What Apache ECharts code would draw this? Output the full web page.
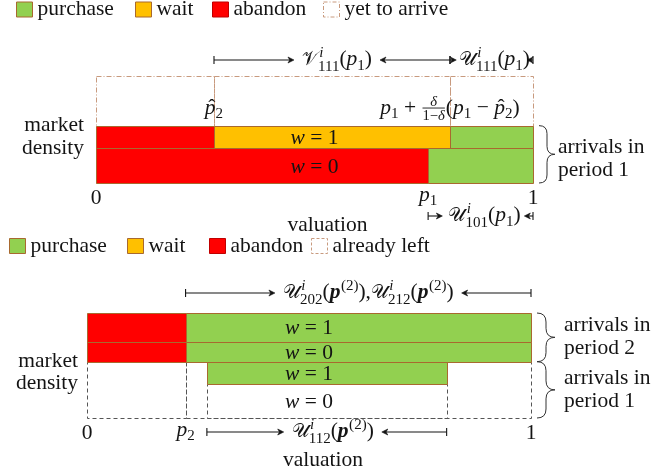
<!DOCTYPE html>
<html>
<head>
<meta charset="utf-8">
<script src="https://cdn.jsdelivr.net/npm/echarts@6/dist/echarts.min.js"></script>
<style>
  html, body { margin: 0; padding: 0; background: #ffffff; }
  #chart { width: 653px; height: 475px; }
</style>
</head>
<body>
<div id="chart"></div>
<script>
// ---- valuation cut-offs on the unit interval ----
const pHat2 = 0.27;       // anticipated period-2 price  \hat p_2
const p1 = 0.76;          // period-1 price
const waitCutoff = 0.81;  // p1 + δ/(1−δ)(p1 − \hat p_2)
const p2 = 0.222;         // period-2 price

// ---- arrival density of each cohort (w = 1 / w = 0) ----
const period1W0 = 0.61;
const period1W1 = 0.39;
const period2W0 = 0.355;
const period2W1 = 0.51;

// ---- legend entries ----
const legendTopNames = ['purchase', 'wait', 'abandon', 'yet to arrive'];
const legendBottomNames = ['purchase', 'wait', 'abandon', 'already left'];

// ---- tick values and their labels ----
const ticksTop = [0, p1, 1];
const tickLabelsTop = ['0', [{ i: 'p' }, { s: '1' }], '1'];
const ticksBottom = [0, p2, 1];
const tickLabelsBottom = ['0', [{ i: 'p' }, { s: '2' }], '1'];

// ---- interval labels ----
const labelV111 = [{ c: '𝒱' }, { us: ['i', '111'] }, '(', { i: 'p' }, { s: '1' }, ')'];
const labelU111 = [{ c: '𝒰' }, { us: ['i', '111'] }, '(', { i: 'p' }, { s: '1' }, ')'];
const labelU101 = [{ c: '𝒰' }, { us: ['i', '101'] }, '(', { i: 'p' }, { s: '1' }, ')'];
const labelU2 = [{ c: '𝒰' }, { us: ['i', '202'] }, '(', { b: 'p' }, { u: '(2)' }, '),',
                 { c: '𝒰' }, { us: ['i', '212'] }, '(', { b: 'p' }, { u: '(2)' }, ')'];
const labelU112 = [{ c: '𝒰' }, { us: ['i', '112'] }, '(', { b: 'p' }, { u: '(2)' }, ')'];
const labelPHat2 = [{ h: 'p' }, { s: '2' }];
const labelCutoff = [{ i: 'p' }, { s: '1' }, ' + ', { f: [[{ i: 'δ' }], ['1−', { i: 'δ' }]] },
                     '(', { i: 'p' }, { s: '1' }, ' − ', { h: 'p' }, { s: '2' }, ')'];
const labelW1 = [{ i: 'w' }, ' = 1'];
const labelW0 = [{ i: 'w' }, ' = 0'];

// ---- derived stacking heights ----
const period1Top = period1W0 + period1W1;
const period2W0Top = period1Top + period2W0;
const yMax = period2W0Top + period2W1;

// rectangles: [x from, x to, y from, y to]
const topAbandon = [[0, pHat2, period1W0, period1Top], [0, p1, 0, period1W0]];
const topWait = [[pHat2, waitCutoff, period1W0, period1Top]];
const topPurchase = [[waitCutoff, 1, period1W0, period1Top], [p1, 1, 0, period1W0]];
const topFuture = [[0, pHat2, period1Top, yMax], [pHat2, waitCutoff, period1Top, yMax], [waitCutoff, 1, period1Top, yMax]];

const bottomAbandon = [[0, p2, period1Top, period2W0Top], [0, p2, period2W0Top, yMax]];
const bottomPurchase = [[p2, 1, period1Top, period2W0Top], [p2, 1, period2W0Top, yMax], [pHat2, waitCutoff, period1W0, period1Top]];
const bottomLeft = [[0, p2, 0, period1Top], [p2, 1, 0, period1Top], [pHat2, waitCutoff, 0, period1W0]];

// ---- styling ----
const FONT = 'Liberation Serif';
const FS = 21.5;
const INK = '#141414';
const GREEN = '#92d050';
const YELLOW = '#ffc000';
const RED = '#ff0000';
const EDGE = '#a8692f';
const PEACH = '#c89a7e';
const GREY = '#555555';

// ---- text measurement for the small math typesetter ----
const mctx = document.createElement('canvas').getContext('2d');
function fontOf(size, it, bd) {
  return [it ? 'italic' : '', bd ? 'bold' : '', size + 'px', FONT].filter(Boolean).join(' ');
}
function widthOf(t, size, it, bd) {
  mctx.font = fontOf(size, it, bd);
  return mctx.measureText(t).width;
}
const midCache = {};
function midOffset(size, it, bd) {
  const key = size + '|' + it + '|' + bd;
  if (midCache[key] == null) {
    mctx.font = fontOf(size, it, bd);
    mctx.textBaseline = 'alphabetic';
    const a = mctx.measureText('H').actualBoundingBoxAscent;
    mctx.textBaseline = 'middle';
    const b = mctx.measureText('H').actualBoundingBoxAscent;
    mctx.textBaseline = 'alphabetic';
    midCache[key] = a - b;
  }
  return midCache[key];
}

// lay out a token list into runs relative to a baseline
function layout(tokens, size) {
  const runs = [];
  const rules = [];
  let x = 0;
  const put = (t, sz, it, bd, dx, dy) => {
    runs.push({ t, size: sz, it, bd, x: x + dx, dy });
    return widthOf(t, sz, it, bd);
  };
  (Array.isArray(tokens) ? tokens : [tokens]).forEach(tok => {
    const small = size * 0.7;
    if (typeof tok === 'string') { x += put(tok, size, false, false, 0, 0); return; }
    if (tok.i) x += put(tok.i, size, true, false, 0, 0);
    else if (tok.c) x += put(tok.c, size * 0.88, false, false, 0, 0);
    else if (tok.b) x += put(tok.b, size, true, true, 0, 0);
    else if (tok.s) x += put(tok.s, small, false, false, 0, size * 0.2);
    else if (tok.u) x += put(tok.u, small, false, false, 0.5, -size * 0.4) + 0.5;
    else if (tok.us) {
      const w1 = put(tok.us[0], small, true, false, size * 0.06, -size * 0.4);
      const w2 = put(tok.us[1], small, false, false, 0, size * 0.25);
      x += Math.max(w1 + size * 0.06, w2);
    } else if (tok.h) {
      const w = widthOf(tok.h, size, true, false);
      const hw = widthOf('ˆ', size, false, false);
      put(tok.h, size, true, false, 0, 0);
      put('ˆ', size, false, false, (w - hw) / 2 + size * 0.07, 0);
      x += w;
    } else if (tok.f) {
      const fs = size * 0.68;
      const num = layout(tok.f[0], fs);
      const den = layout(tok.f[1], fs);
      const w = Math.max(num.w, den.w) + 2;
      const axis = -size * 0.26;
      num.runs.forEach(r => runs.push(Object.assign({}, r, { x: x + (w - num.w) / 2 + r.x, dy: r.dy + axis - 2.5 })));
      den.runs.forEach(r => runs.push(Object.assign({}, r, { x: x + (w - den.w) / 2 + r.x, dy: r.dy + axis + fs * 0.7 + 1.5 })));
      rules.push({ x1: x + 1, x2: x + w - 1, dy: axis });
      x += w;
    }
  });
  return { runs, rules, w: x };
}

// math label as a list of graphic elements
function mathEls(tokens, x, baseline, align, size) {
  const L = layout(tokens, size || FS);
  const x0 = align === 'center' ? x - L.w / 2 : (align === 'right' ? x - L.w : x);
  const els = L.runs.map(r => ({
    type: 'text', silent: true,
    x: x0 + r.x,
    y: baseline + r.dy - midOffset(r.size, r.it, r.bd),
    style: {
      text: r.t, fill: INK, fontSize: r.size, fontFamily: FONT,
      fontStyle: r.it ? 'italic' : 'normal', fontWeight: r.bd ? 'bold' : 'normal',
      align: 'left', textAlign: 'left', verticalAlign: 'middle', textVerticalAlign: 'middle'
    }
  }));
  L.rules.forEach(rl => els.push({
    type: 'line', silent: true,
    shape: { x1: x0 + rl.x1, y1: baseline + rl.dy, x2: x0 + rl.x2, y2: baseline + rl.dy },
    style: { stroke: INK, lineWidth: 0.9 }
  }));
  return { els, left: x0, right: x0 + L.w };
}

function plainText(str, x, y, align) {
  return {
    type: 'text', silent: true, x, y,
    style: {
      text: str, fill: INK, fontSize: FS, fontFamily: FONT,
      align: align || 'center', textAlign: align || 'center',
      verticalAlign: 'middle', textVerticalAlign: 'middle'
    }
  };
}

function arrowHead(tip, y, dir) {
  const l = 6 * dir, h = 3;
  return {
    type: 'polygon', silent: true,
    shape: { points: [[tip, y], [tip - l, y - h], [tip - l * 0.7, y], [tip - l, y + h]] },
    style: { fill: INK, stroke: INK, lineWidth: 0.6 }
  };
}

// |--->  label  <---|  between two pixel positions
function spanArrow(xa, xb, y, tokens, shift) {
  const lab = mathEls(tokens, (xa + xb) / 2 + shift, y + FS * 0.25, 'center');
  const out = lab.els.slice();
  const seg = (from, avail, dir) => {
    const gap = Math.min(8, Math.max(0, avail) * 0.3);
    const len = Math.max(6, avail - gap);
    const tip = from + dir * len;
    out.push({ type: 'line', silent: true, shape: { x1: from, y1: y, x2: tip - dir * 3, y2: y }, style: { stroke: INK, lineWidth: 1.1 } });
    out.push(arrowHead(tip, y, dir));
    out.push({ type: 'line', silent: true, shape: { x1: from, y1: y - 4, x2: from, y2: y + 4 }, style: { stroke: INK, lineWidth: 1.1 } });
  };
  seg(xa, lab.left - xa, 1);
  seg(xb, xb - lab.right, -1);
  return out;
}

function brace(x0, yTop, yBot, w) {
  const x1 = x0 + w / 2, x2 = x0 + w, ym = (yTop + yBot) / 2;
  const r = Math.min(w / 2, (yBot - yTop) / 4);
  return {
    type: 'path', silent: true,
    shape: {
      pathData: 'M' + x0 + ',' + yTop + ' Q' + x1 + ',' + yTop + ' ' + x1 + ',' + (yTop + r) +
        ' L' + x1 + ',' + (ym - r) + ' Q' + x1 + ',' + ym + ' ' + x2 + ',' + ym +
        ' Q' + x1 + ',' + ym + ' ' + x1 + ',' + (ym + r) +
        ' L' + x1 + ',' + (yBot - r) + ' Q' + x1 + ',' + yBot + ' ' + x0 + ',' + yBot
    },
    style: { fill: null, stroke: '#333333', lineWidth: 1 }
  };
}

function bracedLabel(x, yTop, yBot, w, textX, lift, line2) {
  const mid = (yTop + yBot) / 2 + lift;
  return [
    brace(x, yTop, yBot, w),
    plainText('arrivals in', textX, mid - 11.5, 'left'),
    plainText(line2, textX, mid + 11.5, 'left')
  ];
}

// rectangle renderer shared by all block series
function rectRenderer(fill, stroke, dash) {
  return function (params, api) {
    const a = api.coord([api.value(0), api.value(3)]);
    const b = api.coord([api.value(1), api.value(2)]);
    const x0 = Math.round(a[0]), x1 = Math.round(b[0]);
    const y0 = Math.round(a[1]), y1 = Math.round(b[1]);
    return {
      type: 'rect',
      shape: { x: x0 + 0.5, y: y0 + 0.5, width: x1 - x0, height: y1 - y0 },
      style: { fill: fill, stroke: stroke, lineWidth: 1, lineDash: dash || null }
    };
  };
}

function blockSeries(name, data, gi, fill, stroke, dash, z) {
  return {
    type: 'custom', name, xAxisIndex: gi, yAxisIndex: gi, z: z,
    data, encode: { x: [0, 1], y: [2, 3] },
    itemStyle: { color: fill === 'none' ? '#ffffff' : fill, borderColor: stroke },
    renderItem: rectRenderer(fill === 'none' ? null : fill, stroke, dash),
    silent: true
  };
}

// annotations for the period-1 panel
function renderTopNotes(params, api) {
  const X = v => api.coord([v, 0])[0];
  const Y = v => api.coord([0, v])[1];
  const yTop = Y(yMax), yBottom = Y(0), yBlock = Y(period1Top), yMid = Y(period1W0);
  const xR = X(1);
  let els = [];
  els = els.concat(spanArrow(X(pHat2), X(waitCutoff), yTop - 16, labelV111, 5));
  els = els.concat(spanArrow(X(waitCutoff), X(1), yTop - 16, labelU111, 3));
  els = els.concat(mathEls(labelPHat2, X(pHat2), yBlock - 12, 'center').els);
  els = els.concat(mathEls(labelCutoff, X(waitCutoff), yBlock - 12, 'center').els);
  els = els.concat(mathEls(labelW1, X(0.5), (yBlock + yMid) / 2 + 7, 'center').els);
  els = els.concat(mathEls(labelW0, X(0.5), (yMid + yBottom) / 2 + 7, 'center').els);
  els.push(plainText('market', X(0) - 12, Y(period1Top), 'right'));
  els.push(plainText('density', X(0) - 12, Y(period1W0), 'right'));
  els = els.concat(bracedLabel(xR + 6, yBlock, yBottom, 16, xR + 25, 5, 'period 1'));
  ticksTop.forEach((v, k) => {
    const isNum = typeof tickLabelsTop[k] === 'string';
    els = els.concat(mathEls(tickLabelsTop[k], X(v), yBottom + (isNum ? 21 : 18), 'center').els);
  });
  els = els.concat(spanArrow(X(p1), X(1), yBottom + 33, labelU101, 4));
  els.push(plainText('valuation', X(0.5) + 13, yBottom + 42, 'center'));
  return { type: 'group', children: els };
}

// annotations for the period-2 panel
function renderBottomNotes(params, api) {
  const X = v => api.coord([v, 0])[0];
  const Y = v => api.coord([0, v])[1];
  const yTop = Y(yMax), yBottom = Y(0);
  const xR = X(1);
  let els = [];
  els = els.concat(spanArrow(X(p2), X(1), yTop - 20, labelU2, 10));
  els = els.concat(mathEls(labelW1, X(0.5), (Y(yMax) + Y(period2W0Top)) / 2 + 7, 'center').els);
  els = els.concat(mathEls(labelW0, X(0.5), (Y(period2W0Top) + Y(period1Top)) / 2 + 7, 'center').els);
  els = els.concat(mathEls(labelW1, X(0.5), (Y(period1Top) + Y(period1W0)) / 2 + 7, 'center').els);
  els = els.concat(mathEls(labelW0, X(0.5), (Y(period1W0) + Y(0)) / 2 + 7, 'center').els);
  els.push(plainText('market', X(0) - 9, Y(period1Top), 'right'));
  els.push(plainText('density', X(0) - 9, Y(period1W0), 'right'));
  els = els.concat(bracedLabel(xR + 6, Y(yMax), Y(period1Top), 18, xR + 33, 0, 'period 2'));
  els = els.concat(bracedLabel(xR + 6, Y(period1Top), Y(0), 18, xR + 33, 0, 'period 1'));
  ticksBottom.forEach((v, k) => {
    const isNum = typeof tickLabelsBottom[k] === 'string';
    els = els.concat(mathEls(tickLabelsBottom[k], X(v), yBottom + (isNum ? 21 : 18), 'center').els);
  });
  els = els.concat(spanArrow(X(pHat2), X(waitCutoff), yBottom + 14, labelU112, 6));
  els.push(plainText('valuation', X(0.5) + 14, yBottom + 42, 'center'));
  return { type: 'group', children: els };
}

const legendIcon = {
  'purchase': { color: GREEN, borderColor: EDGE, borderWidth: 1 },
  'wait': { color: YELLOW, borderColor: EDGE, borderWidth: 1 },
  'abandon': { color: RED, borderColor: '#c00000', borderWidth: 1 },
  'yet to arrive': { color: '#ffffff', borderColor: PEACH, borderWidth: 1, borderType: [4, 2, 1, 2] },
  'already left': { color: '#ffffff', borderColor: PEACH, borderWidth: 1, borderType: [3, 2] }
};
function legendRow(names, lefts, top) {
  return names.map((name, k) => ({
    data: [{ name, icon: 'rect', itemStyle: legendIcon[name] }],
    left: lefts[k], top: top, padding: 0, itemWidth: 16, itemHeight: 15, itemGap: 0,
    selectedMode: false,
    textStyle: { fontFamily: FONT, fontSize: FS, color: INK, lineHeight: 15 }
  }));
}

const chart = echarts.init(document.getElementById('chart'), null, { renderer: 'canvas' });
chart.setOption({
  animation: false,
  backgroundColor: '#ffffff',
  legend: legendRow(legendTopNames, [16, 135, 212, 323], -1.5)
    .concat(legendRow(legendBottomNames, [9, 127, 209, 311], 235)),
  grid: [
    { left: 96, top: 76, width: 437, height: 107 },
    { left: 87, top: 313, width: 444, height: 105 }
  ],
  xAxis: [
    { type: 'value', gridIndex: 0, min: 0, max: 1, show: false },
    { type: 'value', gridIndex: 1, min: 0, max: 1, show: false }
  ],
  yAxis: [
    { type: 'value', gridIndex: 0, min: 0, max: yMax, show: false },
    { type: 'value', gridIndex: 1, min: 0, max: yMax, show: false }
  ],
  series: [
    blockSeries('yet to arrive', topFuture, 0, 'none', PEACH, [5, 2, 1, 2], 1),
    blockSeries('abandon', topAbandon, 0, RED, EDGE, null, 2),
    blockSeries('wait', topWait, 0, YELLOW, EDGE, null, 2),
    blockSeries('purchase', topPurchase, 0, GREEN, EDGE, null, 2),
    blockSeries('already left', bottomLeft, 1, 'none', GREY, [4, 3], 1),
    blockSeries('abandon', bottomAbandon, 1, RED, EDGE, null, 2),
    blockSeries('purchase', bottomPurchase, 1, GREEN, EDGE, null, 2),
    { type: 'custom', name: 'notes-top', xAxisIndex: 0, yAxisIndex: 0, z: 3, silent: true,
      data: [[0, 0]], renderItem: renderTopNotes },
    { type: 'custom', name: 'notes-bottom', xAxisIndex: 1, yAxisIndex: 1, z: 3, silent: true,
      data: [[0, 0]], renderItem: renderBottomNotes }
  ]
});
</script>
</body>
</html>
